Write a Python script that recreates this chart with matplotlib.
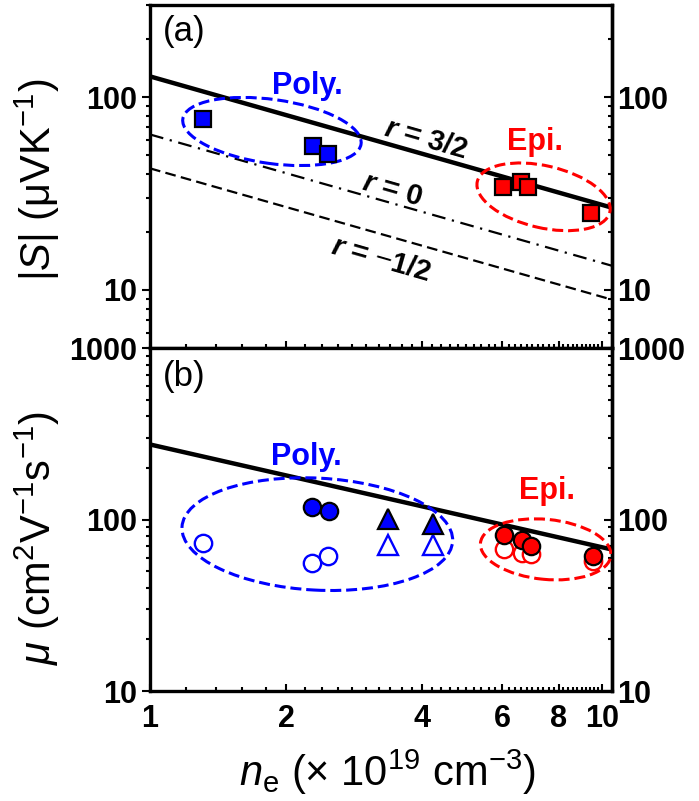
import numpy as np
import matplotlib
matplotlib.use("Agg")
import matplotlib.pyplot as plt
from matplotlib.patches import Ellipse
from matplotlib.transforms import ScaledTranslation
from matplotlib.ticker import LogLocator, NullFormatter

plt.rcParams['font.family'] = ['Liberation Sans', 'DejaVu Sans']
plt.rcParams['mathtext.fontset'] = 'custom'
plt.rcParams['mathtext.rm'] = 'Liberation Sans'
plt.rcParams['mathtext.it'] = 'Liberation Sans:italic'
plt.rcParams['mathtext.bf'] = 'Liberation Sans:bold'
plt.rcParams['mathtext.bfit'] = 'Liberation Sans:bold:italic'

# (a) Seebeck coefficient |S| vs n_e
poly_n = [1.31, 2.29, 2.48]
poly_S = [77, 55.5, 50.6]
epi_n = [6.03, 6.6, 6.86, 9.45]
epi_S = [34, 36.3, 34, 25]

# model lines S = A * n^(-2/3) for r = 3/2, 0, -1/2
r_labels = [r'$\mathbfit{r}$ = 3/2', r'$\mathbfit{r}$ = 0', r'$\mathbfit{r}$ = $-$1/2']
S_pref = [128, 64, 42.7]
S_expo = -2 / 3

# (b) mobility vs n_e
poly_mu_n = [2.28, 2.49]
poly_mu = [118, 112]
poly_mu_open_n = [1.31, 2.28, 2.48]
poly_mu_open = [73, 56, 61.5]
tri_n = [3.36, 4.23]
tri_mu = [101, 94]
tri_mu_open = [71, 71.5]
epi_mu_n = [6.05, 6.64, 6.95, 9.52]
epi_mu = [81, 76, 70.5, 61.5]
epi_mu_open = [67, 64, 63, 57.5]

mu_pref = 274
mu_expo = -0.6

BLUE = '#0000ff'
RED = '#ff0000'
TICK_FS = 22

fig = plt.figure(figsize=(6.99, 8.01), dpi=100)
ax1 = fig.add_axes([0.2146, 0.5655, 0.661, 0.4282])
ax2 = fig.add_axes([0.2146, 0.1373, 0.661, 0.4282])

nx = np.array([1.0, 10.5])


def ring(ax, cx, cy, w, h, ang, color):
    tr = fig.dpi_scale_trans + ScaledTranslation(cx, cy, ax.transData)
    ax.add_patch(Ellipse((0, 0), w, h, angle=ang, transform=tr, fill=False,
                         ec=color, lw=2.2, ls=(0, (3.6, 1.6)), zorder=4))


def style(ax, ylim, yticks):
    ax.set_xscale('log')
    ax.set_yscale('log')
    ax.set_xlim(1, 10.5)
    ax.set_ylim(*ylim)
    for s in ax.spines.values():
        s.set_linewidth(2.4)
    ax.set_xticks([1, 2, 4, 6, 8, 10])
    ax.set_xticklabels(['1', '2', '4', '6', '8', '10'])
    ax.xaxis.set_minor_locator(LogLocator(base=10, subs=np.arange(1.2, 10, 0.2)))
    ax.xaxis.set_minor_formatter(NullFormatter())
    ax.set_yticks(yticks)
    ax.set_yticklabels([f'{t:g}' for t in yticks])
    ax.yaxis.set_minor_locator(LogLocator(base=10, subs=np.arange(2, 10)))
    ax.yaxis.set_minor_formatter(NullFormatter())
    ax.tick_params(axis='x', which='both', direction='in', top=False, width=1.5)
    ax.tick_params(axis='x', which='major', length=5, pad=9, labelsize=TICK_FS)
    ax.tick_params(axis='x', which='minor', length=3)
    ax.tick_params(axis='y', which='both', direction='out', right=False, width=1.5)
    ax.tick_params(axis='y', which='major', length=6, pad=3, labelsize=TICK_FS)
    ax.tick_params(axis='y', which='minor', length=3)
    for lab in ax.get_xticklabels() + ax.get_yticklabels():
        lab.set_fontweight('bold')
    sec = ax.secondary_yaxis('right')
    sec.set_yticks(yticks)
    sec.set_yticklabels([f'{t:g}' for t in yticks])
    sec.yaxis.set_minor_locator(LogLocator(base=10, subs=np.arange(2, 10)))
    sec.yaxis.set_minor_formatter(NullFormatter())
    sec.spines['right'].set_linewidth(2.4)
    sec.tick_params(which='both', direction='in', width=1.5)
    sec.tick_params(which='major', length=6, pad=4, labelsize=TICK_FS)
    sec.tick_params(which='minor', length=3)
    for lab in sec.get_yticklabels():
        lab.set_fontweight('bold')


# ---- panel (a)
style(ax1, (5, 300), [10, 100])
ax1.tick_params(axis='x', labelbottom=False)
dash = [(0, ()), (0, (6.2, 3, 1, 3)), (0, (4.8, 2.4))]
widths = [3.2, 1.6, 1.6]
for A, ls, lw in zip(S_pref, dash, widths):
    ax1.plot(nx, A * nx ** S_expo, color='black', lw=lw, ls=ls, zorder=2)
ax1.plot(poly_n, poly_S, 's', ms=12, mfc=BLUE, mec='black', mew=1.6, zorder=5)
ax1.plot(epi_n, epi_S, 's', ms=12, mfc=RED, mec='black', mew=1.6, zorder=5)
ring(ax1, 1.86, 66.3, 1.80, 0.64, -8, BLUE)
ring(ax1, 7.41, 30.4, 1.36, 0.62, -13, RED)
ax1.text(2.23, 114, 'Poly.', color=BLUE, fontsize=22, fontweight='bold', ha='center', va='center')
ax1.text(7.11, 58.2, 'Epi.', color=RED, fontsize=22, fontweight='bold', ha='center', va='center')
for lab, (xx, yy) in zip(r_labels, [(4.07, 60.6), (3.44, 33.2), (3.24, 14.3)]):
    ax1.text(xx, yy, lab, fontsize=21, fontweight='bold', rotation=-16,
             ha='center', va='center', rotation_mode='anchor')
ax1.text(0.028, 0.922, '(a)', transform=ax1.transAxes, fontsize=25, ha='left', va='center')
ax1.set_ylabel(r'|$S$| (μVK$^{-1}$)', fontsize=30)
ax1.yaxis.set_label_coords(-0.19, 0.49)

# ---- panel (b)
style(ax2, (10, 1000), [10, 100, 1000])
ax2.plot(nx, mu_pref * nx ** mu_expo, color='black', lw=3.2, zorder=2)
ax2.plot(poly_mu_open_n, poly_mu_open, 'o', ms=12.5, mfc='white', mec=BLUE, mew=1.7, zorder=5)
ax2.plot(poly_mu_n, poly_mu, 'o', ms=12.5, mfc=BLUE, mec='black', mew=1.6, zorder=6)
ax2.plot(tri_n, tri_mu_open, '^', ms=15, mfc='white', mec=BLUE, mew=1.7, zorder=5)
ax2.plot(tri_n, tri_mu, '^', ms=15, mfc=BLUE, mec='black', mew=1.6, zorder=6)
ax2.plot(epi_mu_n, epi_mu_open, 'o', ms=12.5, mfc='white', mec=RED, mew=1.7, zorder=5)
ax2.plot(epi_mu_n, epi_mu, 'o', ms=12.5, mfc=RED, mec='black', mew=1.6, zorder=6)
ring(ax2, 2.343, 82.2, 2.71, 1.12, -3, BLUE)
ring(ax2, 7.49, 67, 1.31, 0.60, -5.6, RED)
ax2.text(2.22, 232, 'Poly.', color=BLUE, fontsize=22, fontweight='bold', ha='center', va='center')
ax2.text(7.54, 146, 'Epi.', color=RED, fontsize=22, fontweight='bold', ha='center', va='center')
ax2.text(0.028, 0.916, '(b)', transform=ax2.transAxes, fontsize=25, ha='left', va='center')
ax2.set_ylabel(r'$\mu$ (cm$^2$V$^{-1}$s$^{-1}$)', fontsize=30)
ax2.yaxis.set_label_coords(-0.19, 0.447)
ax2.set_xlabel(r'$n_\mathrm{e}$ (× 10$^{19}$ cm$^{-3}$)', fontsize=30)
ax2.xaxis.set_label_coords(0.515, -0.166)

fig.savefig('out.png', dpi=100)
